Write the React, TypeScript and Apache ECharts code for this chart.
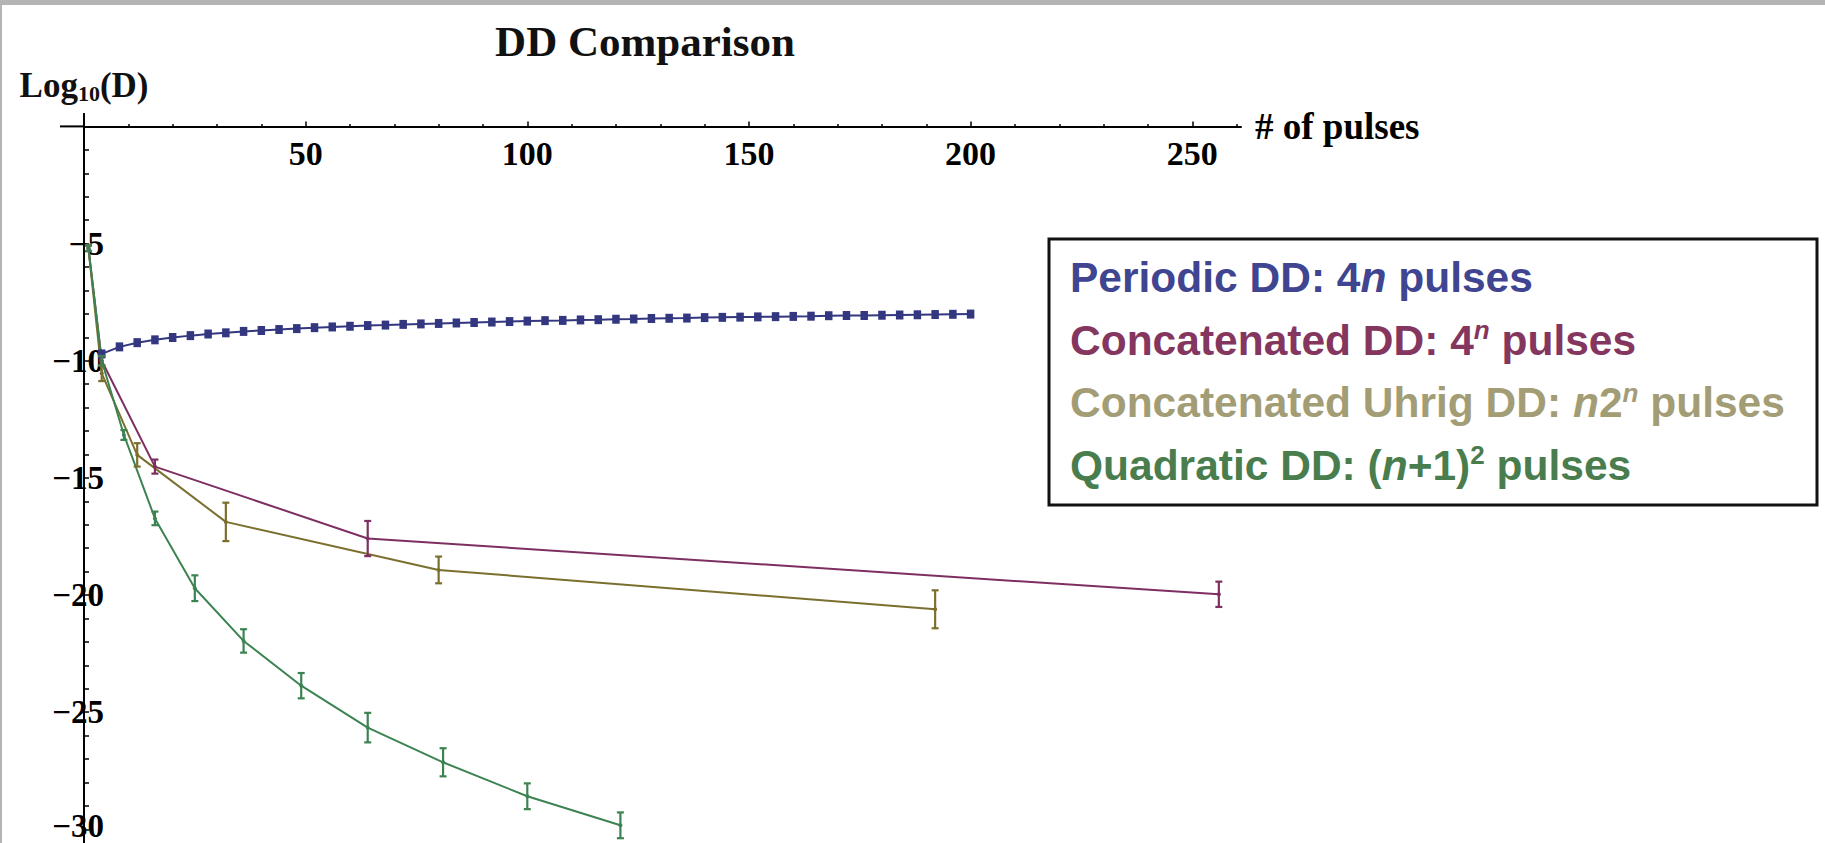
import React, { useEffect, useRef } from "react";
import * as echarts from "echarts";

// ---- data ----
const periodicPulses = [4, 8, 12, 16, 20, 24, 28, 32, 36, 40, 44, 48, 52, 56, 60, 64, 68, 72, 76, 80, 84, 88, 92, 96, 100, 104, 108, 112, 116, 120, 124, 128, 132, 136, 140, 144, 148, 152, 156, 160, 164, 168, 172, 176, 180, 184, 188, 192, 196, 200];
const periodicLogD = [-9.71, -9.41, -9.23, -9.11, -9.01, -8.93, -8.86, -8.81, -8.75, -8.71, -8.67, -8.63, -8.59, -8.56, -8.53, -8.5, -8.48, -8.45, -8.43, -8.41, -8.39, -8.37, -8.35, -8.33, -8.31, -8.29, -8.28, -8.26, -8.25, -8.23, -8.22, -8.2, -8.19, -8.18, -8.16, -8.15, -8.14, -8.13, -8.12, -8.11, -8.1, -8.08, -8.07, -8.07, -8.06, -8.05, -8.04, -8.03, -8.02, -8.01];

const concatPulses = [1, 4, 16, 64, 256];
const concatLogD = [-5.2, -10.0, -14.52, -17.59, -19.97];
const concatErr = [0.12, 0.2, 0.3, 0.75, 0.54];

const uhrigPulses = [1, 4, 12, 32, 80, 192];
const uhrigLogD = [-5.2, -10.54, -14.02, -16.88, -18.93, -20.61];
const uhrigErr = [0.12, 0.33, 0.5, 0.82, 0.57, 0.81];

const quadPulses = [1, 4, 9, 16, 25, 36, 49, 64, 81, 100, 121];
const quadLogD = [-5.2, -10.0, -13.17, -16.73, -19.71, -21.96, -23.87, -25.66, -27.14, -28.59, -29.83];
const quadErr = [0.12, 0.2, 0.21, 0.29, 0.55, 0.5, 0.54, 0.63, 0.6, 0.55, 0.55];

const xMajorTicks = [50, 100, 150, 200, 250];
const xMinorTicks = [10, 20, 30, 40, 60, 70, 80, 90, 110, 120, 130, 140, 160, 170, 180, 190, 210, 220, 230, 240, 260];
const yTicks = [-30, -29, -28, -27, -26, -25, -24, -23, -22, -21, -20, -19, -18, -17, -16, -15, -14, -13, -12, -11, -10, -9, -8, -7, -6, -5, -4, -3, -2, -1];
const yLabels = [-30, -25, -20, -15, -10, -5];

const names = [
  "Periodic DD: 4n pulses",
  "Concatenated DD: 4^n pulses",
  "Concatenated Uhrig DD: n2^n pulses",
  "Quadratic DD: (n+1)^2 pulses",
];

const BLUE = "#333780";
const PINK = "#7e2f62";
const OLIVE = "#7b6f2e";
const GREEN = "#3c8352";

const SERIF = "Liberation Serif";
const SANS = "Liberation Sans";

// plot frame (pixels): x = 0 at X0, y = 0 at Y0
const X0 = 84;
const Y0 = 126.4;
const PX_PER_X = 4.433;
const PX_PER_Y = 23.43;
const X_MAX = 261;
const Y_MIN = -30.6;

function errorBars(name: string, xs: number[], ys: number[], es: number[], color: string) {
  return {
    type: "custom",
    name,
    data: xs.map((x, i) => [x, ys[i], es[i]]),
    encode: { x: 0, y: 1 },
    z: 3,
    clip: false,
    renderItem: (params: any, api: any) => {
      const x = api.value(0);
      const y = api.value(1);
      const e = api.value(2);
      const top = api.coord([x, y + e]);
      const bot = api.coord([x, y - e]);
      const hw = 3.5;
      const style = { stroke: color, lineWidth: 2.2 };
      return {
        type: "group",
        children: [
          { type: "line", shape: { x1: top[0], y1: top[1], x2: bot[0], y2: bot[1] }, style },
          { type: "line", shape: { x1: top[0] - hw, y1: top[1], x2: top[0] + hw, y2: top[1] }, style },
          { type: "line", shape: { x1: bot[0] - hw, y1: bot[1], x2: bot[0] + hw, y2: bot[1] }, style },
        ],
      };
    },
  };
}

function lineSeries(name: string, xs: number[], ys: number[], color: string, symbol: string, size: any) {
  return {
    type: "line",
    name,
    data: xs.map((x, i) => [x, ys[i]]),
    symbol,
    symbolSize: size,
    showSymbol: true,
    clip: false,
    lineStyle: { color, width: 2 },
    itemStyle: { color },
    z: 2,
  };
}

const legendText: Record<string, string> = {
  [names[0]]: "{p|Periodic DD: 4}{pi|n}{p| pulses}",
  [names[1]]: "{c|Concatenated DD: 4}{cs|n}{c| pulses}",
  [names[2]]: "{u|Concatenated Uhrig DD: }{ui|n}{u|2}{us|n}{u| pulses}",
  [names[3]]: "{q|Quadratic DD: (}{qi|n}{q|+1)}{qs|2}{q| pulses}",
};

function richSet(color: string) {
  const base = { color, fontFamily: SANS, fontWeight: "bold", fontSize: 42.5, lineHeight: 46 };
  return {
    main: base,
    ital: { ...base, fontStyle: "italic" },
    sup: { color, fontFamily: SANS, fontWeight: "bold", fontSize: 26, lineHeight: 26, verticalAlign: "top" },
  };
}

export default function App() {
  const ref = useRef<HTMLDivElement>(null);

  useEffect(() => {
    if (!ref.current) return;
    const chart = echarts.init(ref.current, null, { renderer: "svg" });
    const b = richSet("#3f4590");
    const c = richSet("#84365f");
    const u = richSet("#a39d75");
    const q = richSet("#4a7d4e");

    const gridWidth = X_MAX * PX_PER_X;
    const gridHeight = -Y_MIN * PX_PER_Y;
    const tickFont = { fontFamily: SERIF, fontWeight: "bold", fontSize: 33, color: "#000", lineHeight: 26 };

    const option: any = {
      animation: false,
      backgroundColor: "#ffffff",
      grid: {
        left: X0,
        top: Y0,
        width: gridWidth,
        height: gridHeight,
        containLabel: false,
        outerBoundsMode: "none",
      },
      xAxis: [
        {
          type: "value",
          position: "top",
          min: 0,
          max: X_MAX,
          name: "# of pulses",
          nameLocation: "end",
          nameGap: 14,
          nameTextStyle: { fontFamily: SERIF, fontWeight: "bold", fontSize: 37, color: "#000", align: "left", verticalAlign: "middle" },
          axisLine: { show: true, onZero: false, lineStyle: { color: "#000", width: 2 } },
          axisTick: { show: true, inside: false, length: 5, customValues: xMajorTicks, lineStyle: { color: "#000", width: 1.5 } },
          axisLabel: { show: true, inside: true, customValues: xMajorTicks, margin: 10, fontFamily: SERIF, fontWeight: "bold", fontSize: 34, color: "#000" },
          splitLine: { show: false },
        },
        {
          type: "value",
          position: "top",
          min: 0,
          max: X_MAX,
          axisLine: { show: false, onZero: false },
          axisTick: { show: true, inside: false, length: 2.5, customValues: xMinorTicks, lineStyle: { color: "#000", width: 1.5 } },
          axisLabel: { show: false },
          splitLine: { show: false },
        },
      ],
      yAxis: {
        type: "value",
        position: "left",
        min: Y_MIN,
        max: 0,
        axisLine: { show: true, onZero: false, lineStyle: { color: "#000", width: 2 } },
        axisTick: { show: true, inside: true, length: 5, customValues: yTicks, lineStyle: { color: "#000", width: 1.5 } },
        axisLabel: {
          show: true,
          customValues: yLabels,
          margin: -20,
          ...tickFont,
          formatter: (v: number) => {
            const s = v < 0 ? "\u2212" + Math.abs(v) : String(v);
            return v <= -30 ? "{e|" + s + "}" : "{t|" + s + "}";
          },
          rich: {
            t: { ...tickFont },
            e: { ...tickFont, padding: [0, 0, 6, 0] },
          },
        },
        splitLine: { show: false },
      },
      legend: {
        orient: "vertical",
        left: 1065,
        top: 256,
        padding: 0,
        itemGap: 18,
        itemWidth: 0,
        itemHeight: 0,
        icon: "rect",
        selectedMode: false,
        data: names,
        formatter: (name: string) => legendText[name],
        textStyle: {
          fontFamily: SANS,
          fontWeight: "bold",
          fontSize: 42.5,
          rich: {
            p: b.main, pi: b.ital,
            c: c.main, cs: { ...c.sup, fontStyle: "italic" },
            u: u.main, ui: u.ital, us: { ...u.sup, fontStyle: "italic" },
            q: q.main, qi: q.ital, qs: q.sup,
          },
        },
      },
      graphic: [
        { type: "rect", shape: { x: 0, y: 0, width: 1825, height: 5 }, style: { fill: "#b4b4b4" }, silent: true },
        { type: "rect", shape: { x: 0, y: 0, width: 2, height: 843 }, style: { fill: "#b4b4b4" }, silent: true },
        // axis extensions beyond the origin (Mathematica-style crossing axes)
        { type: "line", shape: { x1: 60, y1: Y0, x2: X0, y2: Y0 }, style: { stroke: "#000", lineWidth: 2 }, silent: true },
        { type: "line", shape: { x1: X0, y1: 113, x2: X0, y2: Y0 }, style: { stroke: "#000", lineWidth: 2 }, silent: true },
        {
          type: "text",
          x: 645,
          y: 41,
          style: { text: "DD Comparison", fontFamily: SERIF, fontWeight: "bold", fontSize: 43, fill: "#111", align: "center", verticalAlign: "middle" },
        },
        {
          type: "text",
          x: 84,
          y: 85,
          style: {
            text: "{a|Log}{s|10}{a|(D)}",
            align: "center",
            verticalAlign: "middle",
            fill: "#111",
            rich: {
              a: { fontFamily: SERIF, fontWeight: "bold", fontSize: 35, lineHeight: 38, color: "#111" },
              s: { fontFamily: SERIF, fontWeight: "bold", fontSize: 22, lineHeight: 22, verticalAlign: "bottom", color: "#111" },
            },
          },
        },
        {
          type: "rect",
          shape: { x: 1049, y: 239, width: 768, height: 266 },
          style: { fill: "none", stroke: "#111", lineWidth: 3 },
          silent: true,
        },
      ],
      series: [
        lineSeries(names[0], periodicPulses, periodicLogD, BLUE, "rect", [7.5, 9]),
        lineSeries(names[1], concatPulses, concatLogD, PINK, "circle", 4),
        errorBars(names[1], concatPulses, concatLogD, concatErr, PINK),
        lineSeries(names[2], uhrigPulses, uhrigLogD, OLIVE, "circle", 4),
        errorBars(names[2], uhrigPulses, uhrigLogD, uhrigErr, OLIVE),
        lineSeries(names[3], quadPulses, quadLogD, GREEN, "circle", 4),
        errorBars(names[3], quadPulses, quadLogD, quadErr, GREEN),
      ],
    };
    chart.setOption(option);
    return () => chart.dispose();
  }, []);

  return (
    <div
      ref={ref}
      style={{ position: "fixed", left: 0, top: 0, width: 1825, height: 843, background: "#fff" }}
    />
  );
}
